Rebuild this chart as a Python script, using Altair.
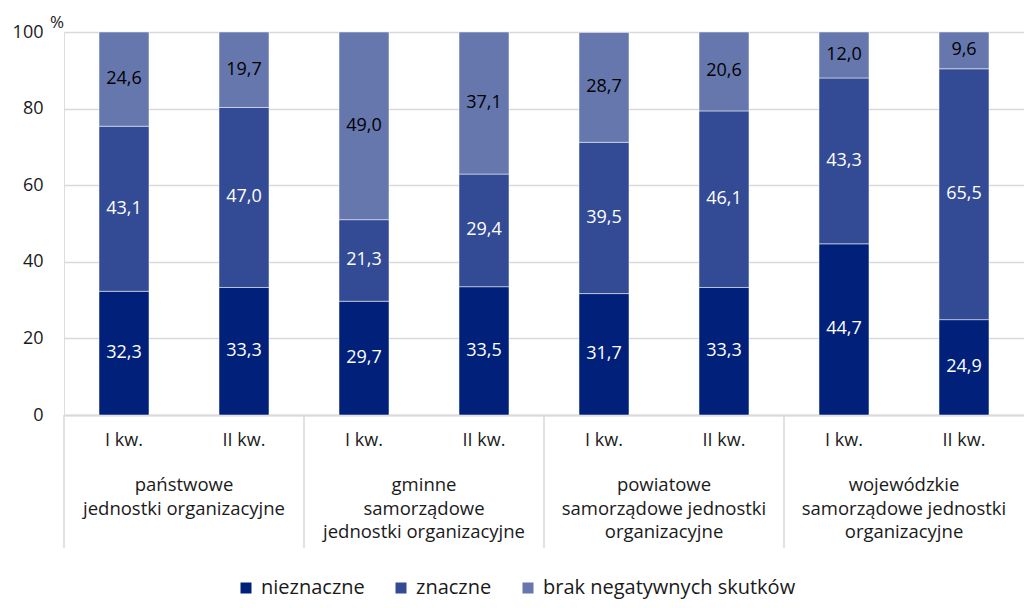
import altair as alt
import pandas as pd

groups = [
    "państwowe\njednostki organizacyjne",
    "gminne\nsamorządowe\njednostki organizacyjne",
    "powiatowe\nsamorządowe jednostki\norganizacyjne",
    "wojewódzkie\nsamorządowe jednostki\norganizacyjne",
]
quarters = ["I kw.", "II kw."]
series = ["nieznaczne", "znaczne", "brak negatywnych skutków"]
colors = ["#00207A", "#334A94", "#6677AE"]
text_colors = ["white", "white", "black"]

# values per bar (group x quarter), in series order
nieznaczne = [32.3, 33.3, 29.7, 33.5, 31.7, 33.3, 44.7, 24.9]
znaczne = [43.1, 47.0, 21.3, 29.4, 39.5, 46.1, 43.3, 65.5]
brak = [24.6, 19.7, 49.0, 37.1, 28.7, 20.6, 12.0, 9.6]

rows = []
keys = []
i = 0
for g in groups:
    for q in quarters:
        key = f"{i}|{q}"
        keys.append(key)
        for s_idx, (s, vals) in enumerate(zip(series, [nieznaczne, znaczne, brak])):
            v = vals[i]
            rows.append({
                "key": key, "group": g, "quarter": q, "series": s,
                "order": s_idx, "value": v,
                "label": f"{v:.1f}".replace(".", ","),
                "tcolor": text_colors[s_idx],
            })
        i += 1
df = pd.DataFrame(rows)
gdf = pd.DataFrame({"group": groups})

W, H = 960, 383
FONT = "Open Sans"
TXT = "#1a1a1a"

xscale = alt.Scale(domain=keys, paddingInner=0.5833, paddingOuter=0.2917)
yscale = alt.Scale(domain=[0, 100])
yaxis = alt.Axis(values=[0, 20, 40, 60, 80, 100], title=None, domain=False, ticks=False,
                 grid=True, gridColor="#d9d9d9", gridWidth=1.5, labelFontSize=18,
                 labelColor=TXT, labelFont=FONT, labelPadding=21)
xaxis = alt.Axis(title=None, ticks=False, domain=True, domainColor="#d9d9d9", domainWidth=2,
                 labelExpr="split(datum.label, '|')[1]", labelAngle=0, labelFontSize=18,
                 labelColor=TXT, labelFont=FONT, labelPadding=16, grid=False)

base = alt.Chart(df).transform_stack(
    stack="value", groupby=["key"], as_=["y0", "y1"], sort=[alt.SortField("order")]
).transform_calculate(mid="(datum.y0 + datum.y1) / 2")

bars = base.mark_bar(stroke="white", strokeWidth=0.5).encode(
    x=alt.X("key:N", scale=xscale, axis=xaxis, sort=keys),
    y=alt.Y("y0:Q", scale=yscale, axis=yaxis),
    y2="y1:Q",
    color=alt.Color("series:N", scale=alt.Scale(domain=series, range=colors),
                    legend=alt.Legend(title=None, orient="none", legendX=172, legendY=546,
                                      direction="horizontal", symbolType="square",
                                      symbolSize=121, symbolStrokeWidth=0,
                                      labelFontSize=20, labelFont=FONT, labelColor=TXT,
                                      labelLimit=0, labelOffset=5, columnPadding=26)),
    order=alt.Order("order:Q"),
)

bartext = base.mark_text(fontSize=18, font=FONT, baseline="middle", align="center").encode(
    x=alt.X("key:N", scale=xscale, axis=None, sort=keys),
    y=alt.Y("mid:Q", scale=yscale, axis=yaxis),
    text="label:N",
    color=alt.Color("tcolor:N", scale=None),
)

gscale = alt.Scale(domain=groups, paddingInner=0, paddingOuter=0)
gtext = alt.Chart(gdf).mark_text(fontSize=18.5, font=FONT, baseline="top", align="center",
                                 lineBreak="\n", lineHeight=23.5, color=TXT).encode(
    x=alt.X("group:N", scale=gscale, axis=None, sort=groups),
    y=alt.value(H + 61),
    text="group:N",
)

seps = alt.Chart(gdf).mark_rule(color="#d9d9d9", strokeWidth=1.5).encode(
    x=alt.X("group:N", scale=gscale, axis=None, sort=groups, bandPosition=0),
    y=alt.value(H),
    y2=alt.value(H + 133),
)

pct = alt.Chart(pd.DataFrame({"t": ["%"]})).mark_text(
    fontSize=17, font=FONT, color=TXT, align="center", baseline="middle").encode(
    text="t:N", x=alt.value(-7), y=alt.value(-9))

chart = alt.layer(bars, bartext, seps, gtext, pct).resolve_scale(x="independent").properties(
    width=W, height=H,
    autosize=alt.AutoSizeParams(type="none"),
    padding={"left": 56, "top": 24, "right": 0, "bottom": 185},
).configure_view(stroke=None).configure(background="white", font=FONT).configure_axis(
    labelFont=FONT).configure_legend(labelFont=FONT)

chart.save("out.html", embed_options={"renderer": "svg", "actions": False})
